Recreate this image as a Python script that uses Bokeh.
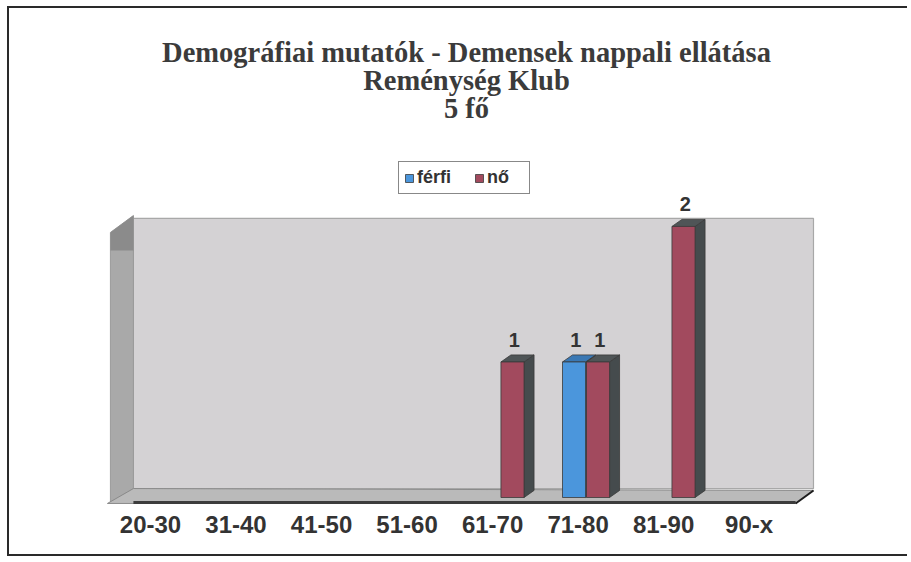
import numpy as np
from bokeh.plotting import figure
from bokeh.core.properties import value
from bokeh.models import (ColumnDataSource, Range1d, FixedTicker, Label, LabelSet,
                          Legend, LegendItem)
from bokeh.embed import file_html
from bokeh.resources import INLINE

# ---------------- data ----------------
categories = ["20-30", "31-40", "41-50", "51-60", "61-70", "71-80", "81-90", "90-x"]
ferfi = [0, 0, 0, 0, 0, 1, 0, 0]
no = [0, 0, 0, 0, 1, 1, 2, 0]
series_names = ["férfi", "nő"]
title_lines = ["Demográfiai mutatók - Demensek nappali ellátása", "Reménység Klub", "5 fő"]

# ---------------- style ----------------
FERFI_COLOR = "#4b96dc"
FERFI_TOP = "#3a78b4"
NO_COLOR = "#a24a5e"
NO_TOP = "#4f5557"
SIDE_COLOR = "#454b4d"
EDGE = "#3a3a3a"
TEXT = "#333333"

BAR_W = 0.27
OFF_FERFI = -0.047
OFF_NO = 0.233
DX = 0.117   # 3D depth (x)
DY = 0.052   # 3D depth (y)

W, H = 900, 550
p = figure(width=W, height=H, output_backend="svg", toolbar_location=None,
           x_range=Range1d(-0.585, 7.835), y_range=Range1d(-0.059, 3.446),
           y_axis_location=None,
           min_border_left=91, min_border_right=89, min_border_top=22, min_border_bottom=53)
p.xgrid.visible = False
p.ygrid.visible = False
p.outline_line_color = None
p.background_fill_color = "white"
p.border_fill_color = "white"
p.styles = {"margin-left": "7px", "margin-top": "6px",
            "border-left": "2px solid #2a2a2a", "border-top": "2px solid #2a2a2a",
            "border-bottom": "2px solid #2a2a2a"}

# ---------------- 3D walls (decoration) ----------------
BW_L, BW_R, BW_B, BW_T = -0.2, 7.753, 0.066, 2.059
LW_L = -0.469
# back wall
p.patch([BW_L, BW_R, BW_R, BW_L], [BW_B, BW_B, BW_T, BW_T],
        fill_color="#d4d2d4", line_color="#a8a8a8", line_width=1.2)
# left wall
p.patch([LW_L, BW_L, BW_L, LW_L], [-0.037, BW_B, 2.081, 1.956],
        fill_color="#a9a9a9", line_color="#9a9a9a", line_width=1)
p.patch([LW_L, BW_L, BW_L, LW_L], [1.823, 1.823, 2.081, 1.956],
        fill_color="#8b8b8b", line_color=None)
# floor
p.patch([-0.504, 7.544, BW_R, BW_L], [-0.044, -0.044, 0.052, BW_B],
        fill_color="#bababa", line_color="#8a8a8a", line_width=1)
p.segment(x0=[BW_L], y0=[-0.036], x1=[7.544], y1=[-0.036], line_color="#3c3c3c", line_width=3)
p.segment(x0=[7.544], y0=[-0.044], x1=[BW_R], y1=[0.052], line_color="#1e1e1e", line_width=2)

# ---------------- bars ----------------
x_idx = np.arange(len(categories))


def draw_series(vals, offset, color, top_color):
    vals = np.asarray(vals, dtype=float)
    keep = vals > 0
    xc = x_idx[keep] + offset
    v = vals[keep]
    hw = BAR_W / 2
    side_xs = [[x + hw, x + hw + DX, x + hw + DX, x + hw] for x in xc]
    side_ys = [[0, DY, val + DY, val] for val in v]
    top_xs = [[x - hw, x - hw + DX, x + hw + DX, x + hw] for x in xc]
    top_ys = [[val, val + DY, val + DY, val] for val in v]
    p.patches(side_xs, side_ys, fill_color=SIDE_COLOR, line_color=EDGE, line_width=0.8)
    p.patches(top_xs, top_ys, fill_color=top_color, line_color=EDGE, line_width=0.8)
    r = p.vbar(x=xc, top=v, bottom=0, width=BAR_W, fill_color=color,
               line_color=EDGE, line_width=0.8)
    return r, xc, v


r_f, xf, vf = draw_series(ferfi, OFF_FERFI, FERFI_COLOR, FERFI_TOP)
r_n, xn, vn = draw_series(no, OFF_NO, NO_COLOR, NO_TOP)

lab_src = ColumnDataSource(dict(
    x=list(xf + 0.02) + list(xn + 0.02),
    y=list(vf) + list(vn),
    t=[str(int(a)) for a in vf] + [str(int(a)) for a in vn],
))
p.add_layout(LabelSet(x="x", y="y", text="t", source=lab_src, y_offset=15,
                      text_align="center", text_baseline="bottom",
                      text_font=value("Liberation Sans"), text_font_style="bold",
                      text_font_size=value("20px"), text_color=TEXT))

# ---------------- axis ----------------
ax = p.xaxis[0]
ax.ticker = FixedTicker(ticks=list(range(len(categories))))
ax.major_label_overrides = {i: c for i, c in enumerate(categories)}
ax.axis_line_color = None
ax.major_tick_line_color = None
ax.minor_tick_line_color = None
ax.major_tick_out = 0
ax.major_tick_in = 0
ax.major_label_standoff = 5
ax.major_label_text_font = "Liberation Sans"
ax.major_label_text_font_style = "bold"
ax.major_label_text_font_size = "24px"
ax.major_label_text_color = TEXT

# ---------------- title ----------------
for txt, yy in zip(title_lines, [453, 425, 397]):
    p.add_layout(Label(x=366, y=yy, x_units="screen", y_units="screen", text=txt,
                       text_align="center", text_baseline="alphabetic",
                       text_font="Liberation Serif", text_font_style="bold",
                       text_font_size="28.5px", text_color="#3b3b3b"))

# ---------------- legend ----------------
legend = Legend(items=[LegendItem(label=series_names[0], renderers=[r_f]),
                       LegendItem(label=series_names[1], renderers=[r_n])],
                location=(298, 311), orientation="horizontal",
                glyph_width=10, glyph_height=10, label_standoff=3, spacing=20,
                padding=5, margin=0, label_width=37,
                label_text_font="Liberation Sans", label_text_font_style="bold",
                label_text_font_size="18px", label_text_color=TEXT,
                border_line_color="#111111", border_line_width=1.5,
                background_fill_color="white", background_fill_alpha=1.0)
p.add_layout(legend)

open("out.html", "w").write(file_html(p, INLINE))
